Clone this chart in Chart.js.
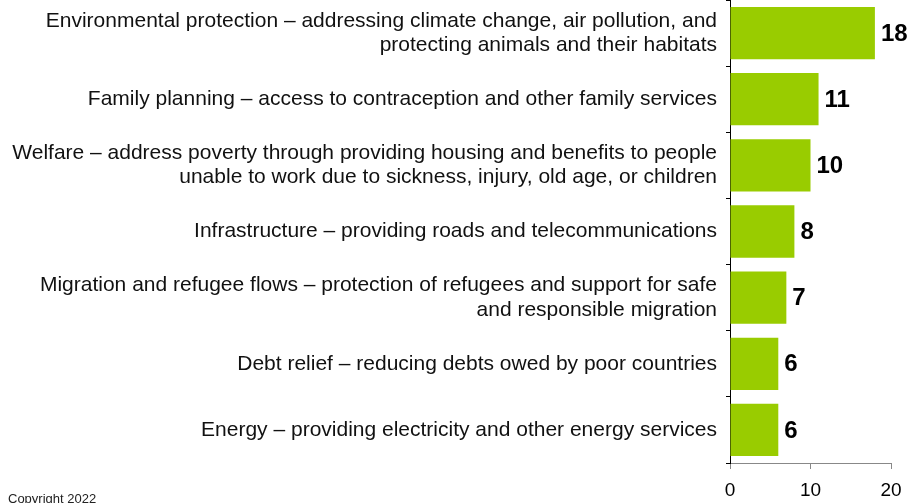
<!DOCTYPE html>
<html>
<head>
<meta charset="utf-8">
<script src="https://cdn.jsdelivr.net/npm/chart.js@4"></script>
<style>
  html, body { margin: 0; padding: 0; background: #fff; overflow: hidden; }
  #wrap { position: relative; width: 912px; height: 503px; }
  #copy { position: absolute; left: 8px; top: 491px; font: 13px "Liberation Sans", Arial, sans-serif; color: #222; white-space: nowrap; }
</style>
</head>
<body>
<div id="wrap">
  <canvas id="chart" width="912" height="503"></canvas>
  <div id="copy">Copyright 2022</div>
</div>
<script>
// Issue areas and counts
const categories = [
  ['Environmental protection – addressing climate change, air pollution, and', 'protecting animals and their habitats'],
  'Family planning – access to contraception and other family services',
  ['Welfare – address poverty through providing housing and benefits to people', 'unable to work due to sickness, injury, old age, or children'],
  'Infrastructure – providing roads and telecommunications',
  ['Migration and refugee flows – protection of refugees and support for safe', 'and responsible migration'],
  'Debt relief – reducing debts owed by poor countries',
  'Energy – providing electricity and other energy services'
];
const values = [18, 11, 10, 8, 7, 6, 6];
const xTicks = [0, 10, 20];

const FONT = '"Liberation Sans", Arial, sans-serif';

// bold counts to the right of each bar
const valueLabels = {
  id: 'valueLabels',
  afterDatasetsDraw(chart) {
    const { ctx } = chart;
    const meta = chart.getDatasetMeta(0);
    ctx.save();
    ctx.font = 'bold 24px ' + FONT;
    ctx.fillStyle = '#000';
    ctx.textAlign = 'left';
    ctx.textBaseline = 'middle';
    meta.data.forEach((bar, i) => {
      ctx.fillText(String(values[i]), bar.x + 6, bar.y + 1);
    });
    ctx.restore();
  }
};

new Chart(document.getElementById('chart'), {
  type: 'bar',
  data: {
    labels: categories,
    datasets: [{
      data: values,
      backgroundColor: '#99cc00',
      borderWidth: 0,
      categoryPercentage: 1,
      barPercentage: 0.79
    }]
  },
  options: {
    indexAxis: 'y',
    responsive: false,
    animation: false,
    layout: { padding: { top: 0, right: 21, left: 0, bottom: 0 } },
    plugins: { legend: { display: false }, tooltip: { enabled: false } },
    scales: {
      x: {
        min: 0,
        max: 20,
        afterBuildTicks(scale) { scale.ticks = xTicks.map(v => ({ value: v })); },
        afterFit(scale) { scale.height = 40; },
        grid: { drawOnChartArea: false, drawTicks: true, tickLength: 6, color: '#888' },
        border: { color: '#888', width: 1 },
        ticks: { color: '#000', font: { family: FONT, size: 19 }, padding: 10, maxRotation: 0 }
      },
      y: {
        afterFit(scale) {
          scale.width = 730;
          scale.paddingTop = 0;
          scale.paddingBottom = 0;
        },
        grid: { drawOnChartArea: false, drawTicks: true, tickLength: 4, color: '#000', offset: true },
        border: { color: '#000', width: 1 },
        ticks: { color: '#111', font: { family: FONT, size: 21, lineHeight: 1.15 }, padding: 9, crossAlign: 'near', autoSkip: false }
      }
    }
  },
  plugins: [valueLabels]
});
</script>
</body>
</html>
